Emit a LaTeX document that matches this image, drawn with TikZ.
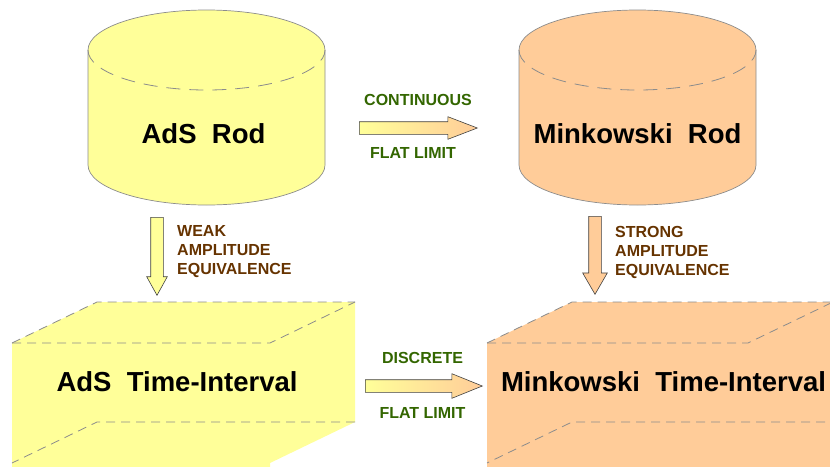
\documentclass[tikz,border=0pt]{standalone}
\usepackage{fontspec}
\setmainfont{Liberation Sans}
\usetikzlibrary{shapes.arrows}

\definecolor{rodyellow}{HTML}{FFFF99}
\definecolor{rodorange}{HTML}{FFCC99}
\definecolor{edgegray}{HTML}{8C8C8C}
\definecolor{limitgreen}{HTML}{336600}
\definecolor{ampbrown}{HTML}{663300}

\tikzset{
	edge/.style={edgegray, line width=0.7pt},
	rodhidden/.style={edgegray, line width=0.8pt, dash pattern=on 14pt off 9pt},
	boxhidden/.style={edgegray, line width=0.8pt, dash pattern=on 9pt off 6pt},
	big/.style={font=\bfseries\fontsize{27.5}{30}\selectfont, inner sep=0pt},
	lab/.style={font=\bfseries\fontsize{16}{19}\selectfont, align=left, inner sep=0pt},
	blockarrow/.style={single arrow, draw=black!75, line width=0.6pt, anchor=tail,
		inner xsep=0pt, inner ysep=6pt, single arrow head extend=5pt},
	downarrow/.style={single arrow, draw=black!75, line width=0.6pt, anchor=tail,
		shape border rotate=270, inner xsep=6pt, inner ysep=0pt}
}

\begin{document}
\begin{tikzpicture}[x=1pt, y=-1pt]

		\useasboundingbox (0,0) rectangle (830,466);
		\clip (0,0) rectangle (830,466);

		% rods
		\foreach \cx/\col in {206.5/rodyellow, 637.5/rodorange} {
			\fill[\col] (\cx-118.5,50) -- (\cx-118.5,165)
				arc[start angle=180, end angle=360, x radius=118.5pt, y radius=40pt]
				-- (\cx+118.5,50)
				arc[start angle=0, end angle=180, x radius=118.5pt, y radius=40pt] -- cycle;
			\draw[edge] (\cx-118.5,50) -- (\cx-118.5,165)
				arc[start angle=180, end angle=360, x radius=118.5pt, y radius=40pt]
				-- (\cx+118.5,50)
				arc[start angle=0, end angle=180, x radius=118.5pt, y radius=40pt];
			\draw[rodhidden] (\cx-118.5,50)
				arc[start angle=180, end angle=360, x radius=118.5pt, y radius=40pt];
		}

		% time-interval boxes
		\fill[rodyellow] (12,343) -- (97,302) -- (355,302) -- (355,422) -- (270,463)
			-- (270,470) -- (12,470) -- cycle;
		\draw[boxhidden] (12,343) -- (97,302) -- (355,302);
		\draw[boxhidden] (12,343) -- (270,343) -- (355,302);
		\draw[boxhidden] (355,422) -- (97,422) -- (12,463);

		\fill[rodorange] (487,343) -- (572,302) -- (840,302) -- (840,470) -- (487,470) -- cycle;
		\draw[boxhidden] (487,343) -- (572,302) -- (840,302);
		\draw[boxhidden] (487,343) -- (748,343) -- (833,302);
		\draw[boxhidden] (840,422) -- (572,422) -- (487,463);

		\node[big] (adsrod) at (203.5,134) {AdS~~Rod};
		\node[big] (minkrod) at (637.5,134) {Minkowski~~Rod};
		\node[big] (adsbox) at (177,382) {AdS~~Time-Interval};
		\node[big] (minkbox) at (663.5,382) {Minkowski~~Time-Interval};

		% block arrows
		\node[blockarrow, minimum height=118pt, single arrow tip angle=42,
			left color=rodyellow, right color=rodorange] (cflow) at (359,128) {};
		\node[blockarrow, minimum height=117pt, single arrow head extend=6pt,
			single arrow tip angle=44, left color=rodyellow, right color=rodorange] (dflow) at (365,386) {};
		\node[downarrow, minimum height=78pt, single arrow head extend=4pt,
			single arrow tip angle=58, fill=rodyellow] (wflow) at (157,217) {};
		\node[downarrow, minimum height=78pt, single arrow head extend=6pt,
			single arrow tip angle=60, fill=rodorange] (sflow) at (595,216) {};

		\node[lab, limitgreen] (cont) at (418,100) {CONTINUOUS};
		\node[lab, limitgreen] (flatc) at (413,153) {FLAT LIMIT};
		\node[lab, limitgreen] (disc) at (422.5,358) {DISCRETE};
		\node[lab, limitgreen] (flatd) at (422.5,413) {FLAT LIMIT};
		\node[lab, ampbrown, anchor=west] (weak) at (177,252) {WEAK\\AMPLITUDE\\EQUIVALENCE};
		\node[lab, ampbrown, anchor=west] (strong) at (615,252) {STRONG\\AMPLITUDE\\EQUIVALENCE};

	\end{tikzpicture}
\end{document}
